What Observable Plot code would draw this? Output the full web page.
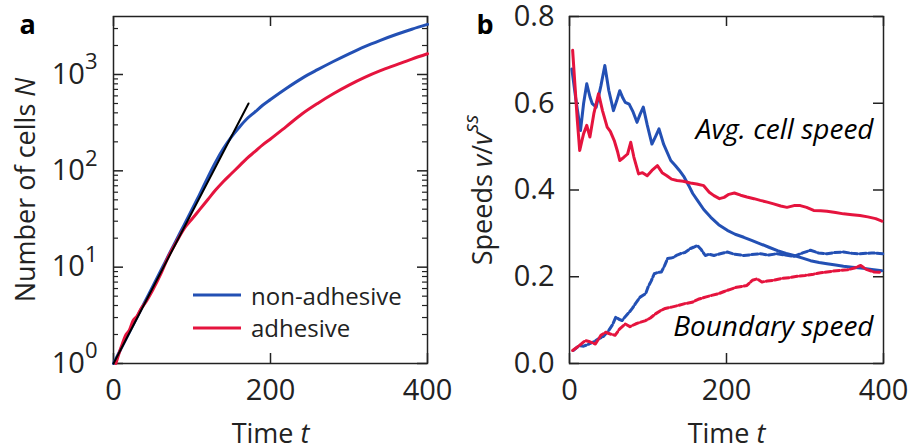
<!DOCTYPE html>
<html><head><meta charset="utf-8">
<script src="https://cdn.jsdelivr.net/npm/d3@7"></script>
<script src="https://cdn.jsdelivr.net/npm/@observablehq/plot@0.6"></script>
<style>
body{margin:0;background:#fff;}
#wrap{position:relative;width:910px;height:448px;font-family:'Open Sans',sans-serif;overflow:hidden;}
#pa,#pb{position:absolute;top:0;}
#pa{left:0;} #pb{left:455px;}
#legend{position:absolute;left:0;top:0;pointer-events:none;}
</style></head>
<body>
<div id="wrap"><div id="pa"></div><div id="pb"></div></div>
<script>
// ---------- Panel a data: number of cells N vs time t ----------
const seriesNames = ["non-adhesive", "adhesive"];
const colors = ["#2350b4", "#e5143e"];
const timeA_non = [0,10,20,30,40,50,60,70,80,90,100,110,120,130,140,150,160,170,180,190,200,220,240,260,280,300,320,340,360,380,400];
const cellsA_non = [1,1.45,2.09,3.02,4.37,6.31,9.12,13.2,19.1,27.5,39.8,57.5,85,123,170,224,282,347,407,479,550,716,912,1122,1365,1641,1950,2265,2600,2951,3311];
const timeA_adh = [3,10,16,20,25,30,35,40,50,60,70,80,90,100,110,120,130,140,150,160,170,180,190,200,220,240,260,280,300,320,340,360,380,400];
const cellsA_adh = [1,1.5,2.0,2.2,2.8,3.1,3.7,4.2,5.8,8.4,12.9,18.2,25.1,31.6,39.8,50.1,63.1,77.6,93.3,112,135,158,186,214,288,389,501,631,776,933,1096,1259,1445,1641];
const fitT = [0, 172];
const fitN = [1, 500];
const xTicks = [0, 200, 400];
const yTicksA = [1, 10, 100, 1000];
const yMinorA = [2,3,4,5,6,7,8,9,20,30,40,50,60,70,80,90,200,300,400,500,600,700,800,900,2000,3000];

// ---------- Panel b data: speeds v/v^ss vs time t ----------
const avgSpeedNon = [[3,0.679],[8,0.61],[14,0.537],[18,0.6],[22,0.645],[26,0.615],[29,0.599],[34,0.591],[40,0.64],[45,0.687],[50,0.63],[56,0.583],[60,0.605],[64,0.629],[68,0.612],[71,0.602],[76,0.598],[81,0.58],[86,0.556],[90,0.575],[94,0.591],[99,0.55],[105,0.506],[110,0.525],[114,0.541],[120,0.505],[129,0.468],[135,0.456],[140,0.445],[146,0.43],[152,0.41],[157,0.392],[163,0.376],[171,0.355],[180,0.337],[190,0.32],[201,0.307],[211,0.298],[222,0.291],[232,0.284],[243,0.276],[254,0.268],[265,0.26],[276,0.254],[286,0.249],[297,0.243],[307,0.237],[318,0.233],[328,0.23],[339,0.227],[349,0.224],[360,0.222],[371,0.22],[385,0.217],[398,0.214]];
const avgSpeedAdh = [[4,0.722],[7,0.64],[10,0.56],[13,0.491],[16,0.515],[18,0.53],[22,0.549],[26,0.522],[31,0.576],[37,0.622],[42,0.583],[48,0.545],[52,0.535],[57,0.514],[61,0.49],[64,0.468],[69,0.475],[74,0.483],[78,0.51],[82,0.476],[88,0.437],[93,0.44],[99,0.433],[105,0.445],[112,0.456],[118,0.44],[124,0.433],[130,0.425],[137,0.422],[145,0.42],[154,0.416],[162,0.414],[171,0.41],[178,0.395],[184,0.387],[191,0.38],[197,0.383],[203,0.39],[210,0.393],[218,0.388],[226,0.384],[235,0.38],[243,0.376],[252,0.372],[260,0.368],[269,0.363],[277,0.36],[286,0.364],[294,0.364],[302,0.36],[311,0.353],[320,0.352],[328,0.351],[339,0.348],[349,0.345],[360,0.343],[370,0.341],[380,0.338],[390,0.334],[398,0.328]];
const boundarySpeedNon = [[5,0.03],[12,0.041],[18,0.04],[25,0.045],[31,0.05],[37,0.057],[43,0.062],[50,0.076],[55,0.09],[59,0.107],[63,0.102],[67,0.099],[71,0.108],[76,0.118],[80,0.127],[84,0.138],[90,0.153],[97,0.161],[100,0.176],[104,0.19],[108,0.207],[113,0.21],[117,0.211],[121,0.225],[125,0.242],[129,0.243],[133,0.245],[137,0.25],[141,0.253],[147,0.256],[154,0.265],[158,0.268],[163,0.272],[168,0.262],[173,0.249],[178,0.252],[184,0.249],[192,0.253],[201,0.257],[210,0.252],[222,0.249],[232,0.251],[243,0.253],[254,0.25],[264,0.253],[275,0.25],[286,0.247],[297,0.255],[307,0.261],[317,0.255],[328,0.253],[338,0.256],[349,0.257],[360,0.254],[370,0.253],[385,0.255],[399,0.253]];
const boundarySpeedAdh = [[4,0.03],[10,0.038],[15,0.045],[20,0.053],[26,0.05],[33,0.045],[40,0.065],[46,0.072],[52,0.068],[58,0.065],[64,0.08],[71,0.091],[77,0.085],[84,0.091],[90,0.095],[97,0.099],[103,0.105],[110,0.115],[116,0.122],[122,0.127],[130,0.13],[139,0.134],[147,0.138],[156,0.141],[164,0.148],[173,0.153],[181,0.157],[190,0.161],[197,0.166],[205,0.171],[213,0.176],[220,0.178],[226,0.18],[233,0.192],[239,0.195],[245,0.188],[252,0.19],[260,0.192],[270,0.196],[280,0.198],[290,0.201],[300,0.203],[311,0.206],[320,0.209],[328,0.211],[340,0.214],[354,0.216],[363,0.22],[371,0.226],[378,0.217],[388,0.211],[398,0.21]];
const yTicksB = [0, 0.2, 0.4, 0.6, 0.8];
const annotations = ["Avg. cell speed", "Boundary speed"];

// ---------- helpers ----------
const FONT = "'Open Sans', sans-serif";
const FS = 27;       // axis titles
const FS_TICK = 29;  // tick labels
const FS_ANN = 28;   // annotations
const FS_LEG = 24;   // legend
const INK = "#222";
const innerW = 314, innerH = 347;
const zipA = (ts, ns) => ts.map((t, i) => ({t, N: ns[i]}));
const pairs = arr => arr.map(([t, v]) => ({t, v}));

function frameTicks(xT, yT, yMinor) {
  const m = [
    Plot.frame({stroke: INK, strokeWidth: 1.5}),
    Plot.tickX(xT, {x: d => d, insetTop: innerH - 10, stroke: INK, strokeWidth: 1.5}),
    Plot.tickX(xT, {x: d => d, insetBottom: innerH - 10, stroke: INK, strokeWidth: 1.5}),
    Plot.tickY(yT, {y: d => d, insetRight: innerW - 10, stroke: INK, strokeWidth: 1.5}),
    Plot.tickY(yT, {y: d => d, insetLeft: innerW - 10, stroke: INK, strokeWidth: 1.5})
  ];
  if (yMinor) {
    m.push(Plot.tickY(yMinor, {y: d => d, insetRight: innerW - 5, stroke: INK, strokeWidth: 1.2}));
    m.push(Plot.tickY(yMinor, {y: d => d, insetLeft: innerW - 5, stroke: INK, strokeWidth: 1.2}));
  }
  return m;
}

function rich(el, parts) {
  const s = d3.select(el);
  s.text(null);
  parts.forEach(p => {
    const ts = s.append("tspan").text(p.t);
    if (p.italic) ts.attr("font-style", "italic");
    if (p.sup) ts.attr("font-size", "0.76em").attr("dy", "-0.65em");
  });
}

// ---------- Panel a ----------
const plotA = Plot.plot({
  width: 455, height: 448,
  marginLeft: 113, marginRight: 28, marginTop: 16, marginBottom: 85,
  style: {fontFamily: FONT, fontSize: FS + "px", color: INK, background: "transparent"},
  x: {domain: [0, 400]},
  y: {type: "log", domain: [1, 4000]},
  marks: [
    ...frameTicks(xTicks, yTicksA, yMinorA),
    Plot.line(zipA(timeA_non, cellsA_non), {x: "t", y: "N", stroke: colors[0], strokeWidth: 3, curve: "monotone-x"}),
    Plot.line(zipA(timeA_adh, cellsA_adh), {x: "t", y: "N", stroke: colors[1], strokeWidth: 3, curve: "monotone-x"}),
    Plot.line(zipA(fitT, fitN), {x: "t", y: "N", stroke: "#000", strokeWidth: 2}),
    Plot.axisX(xTicks, {tickSize: 0, tickPadding: 16, fontSize: FS_TICK, fontFamily: FONT, label: null}),
    Plot.axisX({tickSize: 0, ticks: [], fontSize: FS, fontFamily: FONT, label: "Time t", labelAnchor: "center", labelOffset: 79}),
    Plot.axisY(yTicksA, {tickSize: 0, tickPadding: 16, fontSize: FS_TICK, fontFamily: FONT, tickFormat: d => "10^" + Math.round(Math.log10(d)), label: null}),
    Plot.axisY({tickSize: 0, ticks: [], fontSize: FS, fontFamily: FONT, label: "Number of cells N", labelAnchor: "center", labelOffset: 98}),
    Plot.text(["a"], {frameAnchor: "top-left", textAnchor: "start", lineAnchor: "bottom", dx: -94, dy: 17, fontWeight: "bold", fontSize: FS, fontFamily: FONT, fill: "#000"})
  ]
});
document.getElementById("pa").appendChild(plotA);

// ---------- Panel b ----------
const plotB = Plot.plot({
  width: 455, height: 448,
  marginLeft: 114, marginRight: 27, marginTop: 16, marginBottom: 85,
  style: {fontFamily: FONT, fontSize: FS + "px", color: INK, background: "transparent"},
  x: {domain: [0, 400]},
  y: {domain: [0, 0.8]},
  marks: [
    ...frameTicks(xTicks, yTicksB, null),
    Plot.line(pairs(avgSpeedNon), {x: "t", y: "v", stroke: colors[0], strokeWidth: 3}),
    Plot.line(pairs(boundarySpeedNon), {x: "t", y: "v", stroke: colors[0], strokeWidth: 3, strokeDasharray: "6,2.5"}),
    Plot.line(pairs(avgSpeedAdh), {x: "t", y: "v", stroke: colors[1], strokeWidth: 3}),
    Plot.line(pairs(boundarySpeedAdh), {x: "t", y: "v", stroke: colors[1], strokeWidth: 3, strokeDasharray: "6,2.5"}),
    Plot.axisX(xTicks, {tickSize: 0, tickPadding: 16, fontSize: FS_TICK, fontFamily: FONT, label: null}),
    Plot.axisX({tickSize: 0, ticks: [], fontSize: FS, fontFamily: FONT, label: "Time t", labelAnchor: "center", labelOffset: 79}),
    Plot.axisY(yTicksB, {tickSize: 0, tickPadding: 15, fontSize: FS_TICK, fontFamily: FONT, tickFormat: d3.format(".1f"), label: null}),
    Plot.axisY({tickSize: 0, ticks: [], fontSize: FS, fontFamily: FONT, label: "Speeds v/vss", labelAnchor: "center", labelOffset: 97}),
    Plot.text([annotations[0]], {frameAnchor: "top-right", textAnchor: "end", lineAnchor: "bottom", dx: -10, dy: 122, fontStyle: "italic", fontSize: FS_ANN, fontFamily: FONT, fill: "#000"}),
    Plot.text([annotations[1]], {frameAnchor: "bottom-right", textAnchor: "end", lineAnchor: "bottom", dx: -10, dy: -28, fontStyle: "italic", fontSize: FS_ANN, fontFamily: FONT, fill: "#000"}),
    Plot.text(["b"], {frameAnchor: "top-left", textAnchor: "start", lineAnchor: "bottom", dx: -93, dy: 17, fontWeight: "bold", fontSize: FS, fontFamily: FONT, fill: "#000"})
  ]
});
document.getElementById("pb").appendChild(plotB);

// ---------- rich text (italics / superscripts) ----------
function fixLabels(svg, xParts, yParts) {
  const xl = svg.querySelector('g[aria-label="x-axis label"] text');
  if (xl) rich(xl, xParts);
  const yl = svg.querySelector('g[aria-label="y-axis label"] text');
  if (yl) rich(yl, yParts);
}
fixLabels(plotA, [{t: "Time "}, {t: "t", italic: true}], [{t: "Number of cells "}, {t: "N", italic: true}]);
fixLabels(plotB, [{t: "Time "}, {t: "t", italic: true}], [{t: "Speeds "}, {t: "v", italic: true}, {t: "/"}, {t: "v", italic: true}, {t: "ss", italic: true, sup: true}]);
plotA.querySelectorAll('g[aria-label="y-axis tick label"] text').forEach(el => {
  const m = /10\^(\d+)/.exec(el.textContent);
  if (m) rich(el, [{t: "10"}, {t: m[1], sup: true}]);
});

// ---------- legend (panel a) ----------
const leg = d3.select("#wrap").append("svg").attr("id", "legend").attr("width", 910).attr("height", 448);
const legRows = [{y: 295, base: 305}, {y: 328, base: 337}];
seriesNames.forEach((name, i) => {
  leg.append("line").attr("x1", 193).attr("x2", 241).attr("y1", legRows[i].y).attr("y2", legRows[i].y)
    .attr("stroke", colors[i]).attr("stroke-width", 3);
  leg.append("text").attr("x", 251).attr("y", legRows[i].base).attr("font-family", FONT).attr("font-size", FS_LEG)
    .attr("fill", INK).text(name);
});
</script>
</body></html>
